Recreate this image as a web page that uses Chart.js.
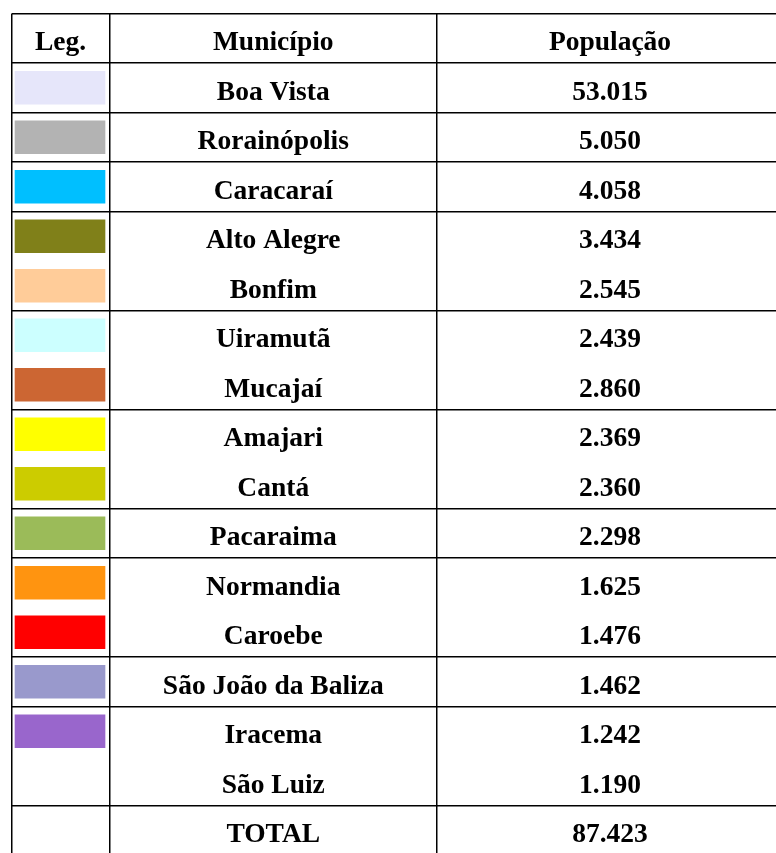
<!DOCTYPE html>
<html>
<head>
<meta charset="utf-8">
<script src="https://cdn.jsdelivr.net/npm/chart.js@4.4.1/dist/chart.umd.min.js"></script>
<style>
  html, body { margin: 0; padding: 0; background: #fff; }
  #tabela { display: block; }
</style>
</head>
<body>
<canvas id="tabela" width="776" height="853"></canvas>
<script>
// cabeçalho e dados
const cabecalho = ['Leg.', 'Município', 'População'];
const municipios = ['Boa Vista', 'Rorainópolis', 'Caracaraí', 'Alto Alegre', 'Bonfim', 'Uiramutã', 'Mucajaí',
    'Amajari', 'Cantá', 'Pacaraima', 'Normandia', 'Caroebe', 'São João da Baliza', 'Iracema', 'São Luiz'];
const populacao = [53015, 5050, 4058, 3434, 2545, 2439, 2860, 2369, 2360, 2298, 1625, 1476, 1462, 1242, 1190];
const cores = ['#E6E6FA', '#B3B3B3', '#00BFFF', '#808019', '#FFCC99', '#CCFFFF', '#CC6633',
    '#FFFF00', '#CCCC00', '#9BBB59', '#FF9410', '#FF0000', '#9999CC', '#9966CC', null];
// linhas agrupadas na tabela (sem divisória entre elas)
const grupos = [1, 1, 1, 2, 2, 2, 1, 2, 1, 2];
const totalLabel = 'TOTAL';
const total = 87423;

// layout (px)
const TOPO = 13.5, ESQ = 11.5, LINHA = 49.5;
const colunas = [0, 98, 425.5, 771.5];
const FONTE = 'bold 27.5px "Liberation Serif", "Times New Roman", serif';

const fmt = v => String(v).replace(/\B(?=(\d{3})+(?!\d))/g, '.');

// divisórias horizontais (índices de linha; 0 = topo do cabeçalho)
const divisorias = [0, 1];
let acc = 1;
grupos.forEach(g => { acc += g; divisorias.push(acc); });

const swatchData = [], swatchCores = [];
municipios.forEach((m, i) => {
    if (cores[i]) {
        swatchData.push({x: [3.5, 93.5], y: i + 1.5});
        swatchCores.push(cores[i]);
    }
});

const textoPlugin = {
    id: 'textoTabela',
    afterDraw(chart) {
        const ctx = chart.ctx;
        const xs = chart.scales.x, ys = chart.scales.y;
        const cx = c => (xs.getPixelForValue(colunas[c]) + xs.getPixelForValue(colunas[c + 1])) / 2;
        const escreve = (txt, c, linha) => {
            ctx.fillText(txt, cx(c), ys.getPixelForValue(linha + 0.5) + 12);
        };
        ctx.save();
        ctx.font = FONTE;
        ctx.fillStyle = '#000';
        ctx.textAlign = 'center';
        ctx.textBaseline = 'alphabetic';
        cabecalho.forEach((t, c) => escreve(t, c, 0));
        municipios.forEach((m, i) => {
            escreve(m, 1, i + 1);
            escreve(fmt(populacao[i]), 2, i + 1);
        });
        escreve(totalLabel, 1, municipios.length + 1);
        escreve(fmt(total), 2, municipios.length + 1);
        ctx.restore();
    }
};

const ctx = document.getElementById('tabela').getContext('2d');
const tabela = new Chart(ctx, {
    type: 'bar',
    data: {
        datasets: [{
            data: swatchData,
            backgroundColor: swatchCores,
            borderWidth: 0,
            borderSkipped: false,
            barThickness: 33
        }]
    },
    options: {
        indexAxis: 'y',
        responsive: false,
        devicePixelRatio: 1,
        animation: false,
        events: [],
        layout: {padding: {top: TOPO, left: ESQ, right: 0, bottom: 0}},
        plugins: {
            legend: {display: false},
            tooltip: {enabled: false}
        },
        scales: {
            x: {
                type: 'linear',
                min: 0,
                max: 776 - ESQ,
                offset: false,
                afterBuildTicks: s => { s.ticks = colunas.map(v => ({value: v})); },
                ticks: {display: false},
                border: {display: false},
                grid: {color: '#000', lineWidth: 1.5, drawTicks: false, offset: false}
            },
            y: {
                type: 'linear',
                reverse: true,
                min: 0,
                max: (853 - TOPO) / LINHA,
                offset: false,
                afterBuildTicks: s => { s.ticks = divisorias.map(v => ({value: v})); },
                ticks: {display: false},
                border: {display: false},
                grid: {color: '#000', lineWidth: 1.5, drawTicks: false, offset: false}
            }
        }
    },
    plugins: [textoPlugin]
});
</script>
</body>
</html>
